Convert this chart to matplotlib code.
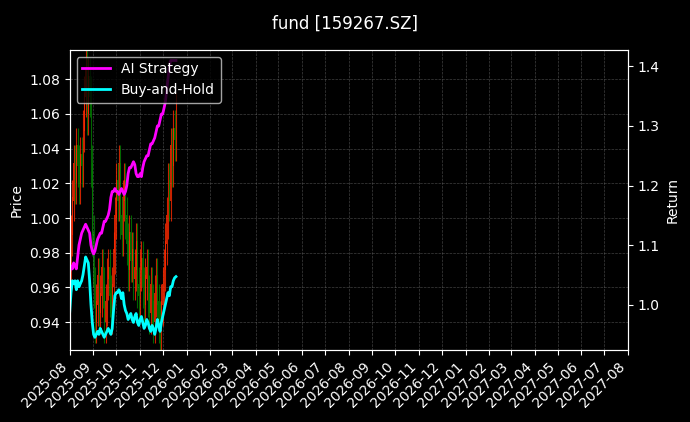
import pandas as pd
import numpy as np
import matplotlib.pyplot as plt
import matplotlib.dates as mdates

plt.style.use('dark_background')

# 日足の終値（読み取り値）
close = [0.975, 0.99, 1.01, 1.03, 1.02, 1.04, 1.03, 1.02, 1.035, 1.03,
         1.05, 1.07, 1.085, 1.06, 1.08, 1.07, 1.03, 0.99,
         0.96, 0.94, 0.95, 0.965, 0.945, 0.955, 0.97, 0.96, 0.94, 0.95, 0.965, 0.97, 0.955, 0.945, 0.96, 0.98,
         1.00, 1.02, 1.01, 1.03, 1.00, 0.99, 1.01, 1.02, 1.00, 0.985, 0.97, 0.99, 0.975,
         0.98, 0.965, 0.97, 0.985, 0.96, 0.955, 0.97, 0.975, 0.96, 0.95, 0.965, 0.97, 0.955, 0.945,
         0.96, 0.95, 0.94, 0.955, 0.965, 0.95, 0.94, 0.935, 0.95, 0.96, 0.97,
         0.985, 1.00, 1.02, 1.01, 1.04, 1.03, 1.05, 1.045, 1.06]
first_open = 0.97

ai_return = [1.055, 1.065, 1.06, 1.07, 1.065, 1.06, 1.08, 1.10, 1.11, 1.12,
             1.125, 1.13, 1.135, 1.13, 1.125, 1.12, 1.10, 1.09,
             1.085, 1.09, 1.10, 1.11, 1.115, 1.12, 1.12, 1.13, 1.14, 1.14, 1.145, 1.15, 1.16, 1.18, 1.19, 1.19,
             1.195, 1.19, 1.19, 1.185, 1.19, 1.195, 1.19, 1.185, 1.19, 1.20, 1.22, 1.23, 1.23,
             1.235, 1.24, 1.235, 1.22, 1.215, 1.215, 1.22, 1.215, 1.23, 1.24, 1.245, 1.25, 1.25, 1.26,
             1.27, 1.27, 1.275, 1.28, 1.29, 1.30, 1.30, 1.31, 1.32, 1.32, 1.33,
             1.34, 1.36, 1.38, 1.40, 1.41, 1.41, 1.41, 1.41, 1.41]

bh_return = [0.987, 1.02, 1.04, 1.035, 1.04, 1.025, 1.04, 1.03, 1.035, 1.04,
             1.05, 1.065, 1.08, 1.075, 1.07, 1.04, 1.00, 0.97,
             0.95, 0.945, 0.95, 0.955, 0.95, 0.96, 0.955, 0.95, 0.945, 0.95, 0.955, 0.96, 0.955, 0.95, 0.96, 0.99,
             1.015, 1.02, 1.02, 1.025, 1.02, 1.01, 1.02, 1.00, 0.99, 0.985, 0.975, 0.98, 0.985,
             0.975, 0.97, 0.98, 0.985, 0.97, 0.965, 0.975, 0.98, 0.97, 0.96, 0.965, 0.975, 0.97, 0.96,
             0.955, 0.965, 0.96, 0.95, 0.96, 0.975, 0.965, 0.955, 0.97, 0.98, 0.99,
             1.00, 1.01, 1.02, 1.015, 1.03, 1.03, 1.04, 1.045, 1.047]

dates = pd.date_range('2025-08-01', '2025-12-18', periods=len(close))

close = np.array(close)
opens = np.concatenate([[first_open], close[:-1]])
highs = np.maximum(opens, close) + 0.012
lows = np.minimum(opens, close) - 0.012
up = close >= opens

fig, ax = plt.subplots(figsize=(6.9, 4.22), dpi=100)
fig.subplots_adjust(left=0.101, right=0.910, top=0.882, bottom=0.171)
fig.suptitle('fund [159267.SZ]', fontsize=12, y=0.965)

# ローソク足
colors = np.where(up, '#ff2a00', 'green')
ax.vlines(dates, lows, highs, colors=colors, linewidth=0.8, alpha=0.8)
ax.bar(dates, np.abs(close - opens) + 0.002, bottom=np.minimum(opens, close),
       width=1.0, color=colors, alpha=0.8)
ax.set_ylim(0.924, 1.097)
ax.set_ylabel('Price')
ax.grid(True, color='gray', linestyle='--', linewidth=0.5, alpha=0.5)

ax2 = ax.twinx()
ax2.plot(dates, ai_return, color='magenta', linewidth=2, label='AI Strategy')
ax2.plot(dates, bh_return, color='cyan', linewidth=2, label='Buy-and-Hold')
ax2.set_ylim(0.924, 1.428)
ax2.set_ylabel('Return')
ax2.legend(loc='upper left', fontsize=10)

ax.set_xlim(pd.Timestamp('2025-08-01'), pd.Timestamp('2027-08-01'))
ax.xaxis.set_major_locator(mdates.MonthLocator())
ax.xaxis.set_major_formatter(mdates.DateFormatter('%Y-%m'))
plt.setp(ax.get_xticklabels(), rotation=45, ha='right')

fig.savefig('out.png')
